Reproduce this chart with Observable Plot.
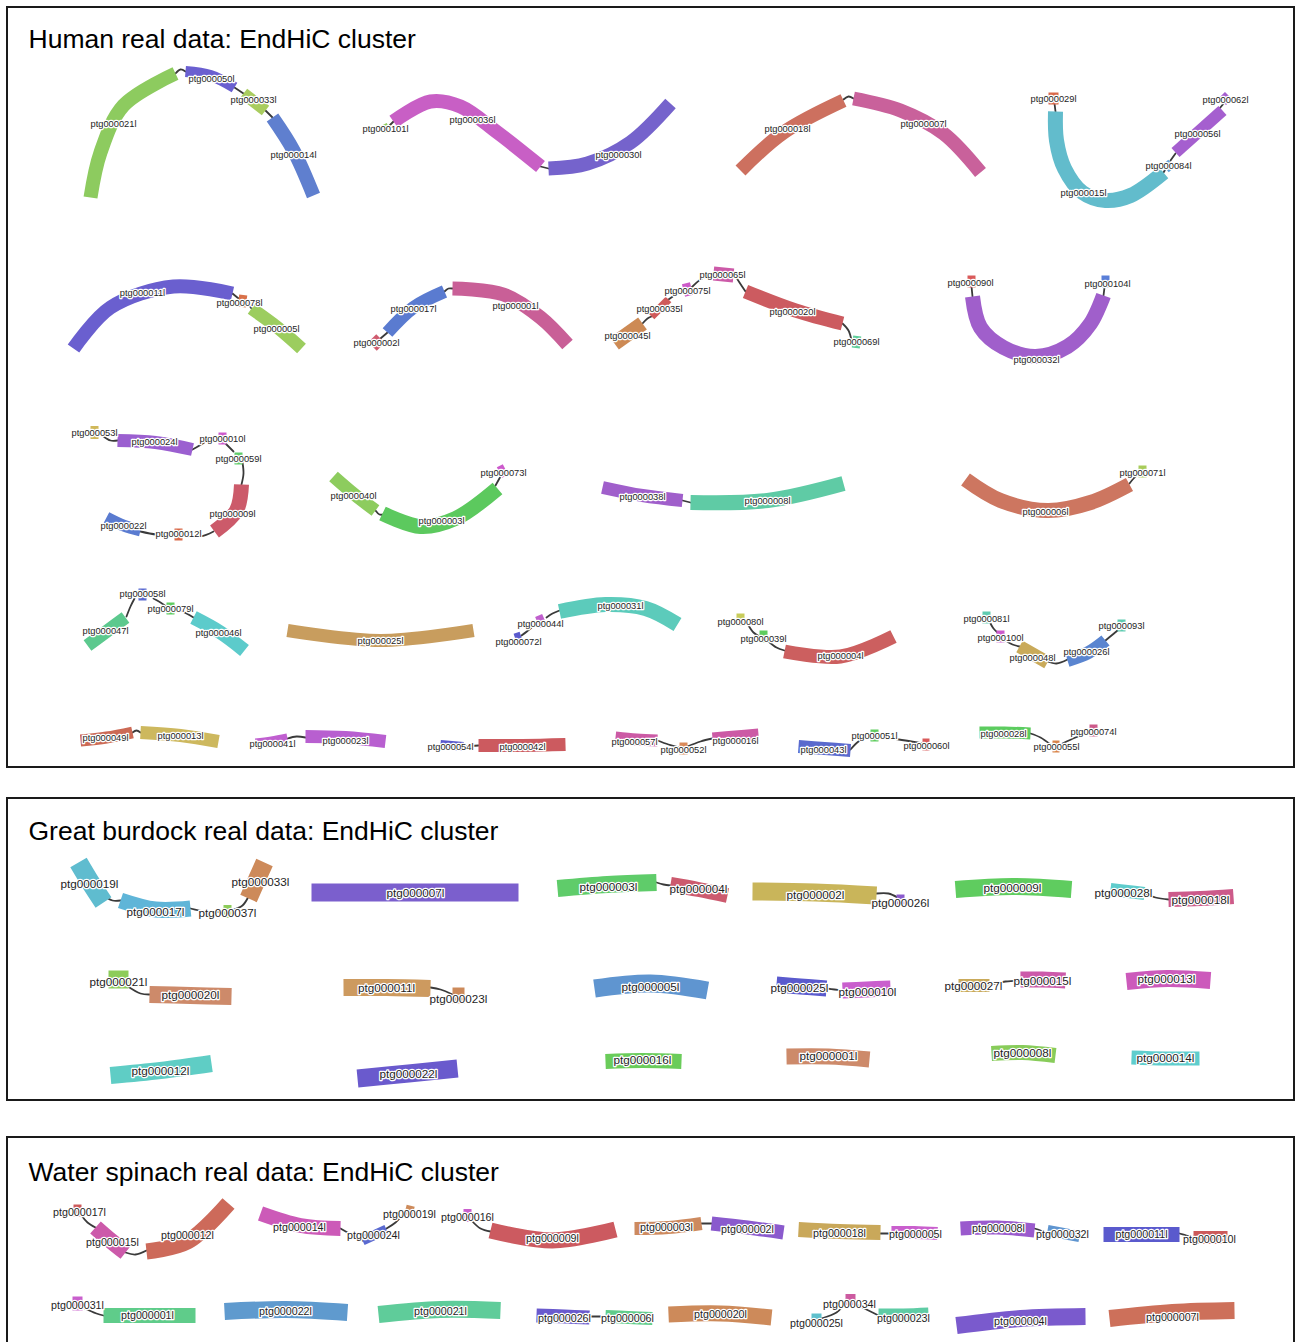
<!DOCTYPE html>
<html><head><meta charset="utf-8">
<script src="https://cdn.jsdelivr.net/npm/d3@7"></script>
<script src="https://cdn.jsdelivr.net/npm/@observablehq/plot@0.6"></script>
<style>html,body{margin:0;padding:0;background:#fff;} #chart svg{display:block}</style>
</head><body><div id="chart"></div>
<script>
const W = 1295, H = 1342;

// Panels: title and frame (layout units = pixels of the picture)
const panelTitles = ["Human real data: EndHiC cluster", "Great burdock real data: EndHiC cluster", "Water spinach real data: EndHiC cluster"];
const panelFrames = [[7, 7, 1294, 767], [7, 798, 1294, 1100], [7, 1137, 1294, 1360]];
const titleAnchors = [[28, 39], [28, 831], [28, 1172]];

// Contigs: [name, colour, depth width, centre-line path, label position]
const humanContigs = [
  ["ptg000021l", "#8dcb5f", 14, [[90,197],[100,152],[123,105],[175,73]], [113,124]],
  ["ptg000050l", "#6a5fd0", 11, [[185,71],[210,75],[234,87]], [211,79]],
  ["ptg000033l", "#a9cc5f", 12, [[243,93],[265,110]], [253,100]],
  ["ptg000014l", "#5f7fcf", 14, [[272,117],[293,150],[313,195]], [293,155]],
  ["ptg000101l", "#8dcb5f", 8, [[382,129],[388,126]], [385,129]],
  ["ptg000036l", "#c85fc5", 14, [[393,121],[430,101],[460,106],[497,132],[540,166]], [472,120]],
  ["ptg000030l", "#7563cc", 14, [[548,168],[587,163],[630,142],[670,103]], [618,155]],
  ["ptg000018l", "#cd705f", 14, [[740,170],[783,132],[843,100]], [787,129]],
  ["ptg000007l", "#c9619b", 14, [[853,98],[900,110],[943,133],[980,172]], [923,124]],
  ["ptg000029l", "#d9694a", 12, [[1048,98],[1058,98]], [1053,99]],
  ["ptg000015l", "#62bccc", 15, [[1055,111],[1056,140],[1064,168],[1082,192],[1105,200],[1130,195],[1163,172]], [1083,193]],
  ["ptg000084l", "#5fa0d8", 10, [[1165,168],[1171,163]], [1168,166]],
  ["ptg000056l", "#a55fcf", 12, [[1175,152],[1222,110]], [1197,134]],
  ["ptg000062l", "#a55fcf", 10, [[1222,101],[1228,95]], [1225,100]],
  ["ptg000011l", "#6a5fcf", 14, [[73,348],[110,307],[173,286],[232,293]], [142,293]],
  ["ptg000078l", "#d9714a", 12, [[238,300],[246,301]], [239,303]],
  ["ptg000005l", "#9ccd5f", 13, [[251,308],[277,327],[301,348]], [276,329]],
  ["ptg000002l", "#cf5a6e", 12, [[372,346],[380,338]], [376,343]],
  ["ptg000017l", "#5a7bd0", 13, [[387,332],[413,307],[444,291]], [413,309]],
  ["ptg000001l", "#c95f97", 14, [[452,288],[503,294],[540,317],[567,344]], [515,306]],
  ["ptg000045l", "#cd8a55", 15, [[614,343],[642,323]], [627,336]],
  ["ptg000035l", "#cf5a5a", 8, [[651,316],[668,299]], [659,309]],
  ["ptg000075l", "#cc5ac8", 13, [[683,290],[691,288]], [687,291]],
  ["ptg000065l", "#cc5aa8", 14, [[713,273],[733,275]], [722,275]],
  ["ptg000020l", "#cc5b60", 14, [[745,291],[795,310],[842,323]], [792,312]],
  ["ptg000069l", "#5fcf9a", 12, [[852,341],[860,342]], [856,342]],
  ["ptg000090l", "#d95a5a", 12, [[967,281],[975,281]], [970,283]],
  ["ptg000032l", "#a05fcb", 15, [[972,296],[980,327],[1003,347],[1035,356],[1067,346],[1090,323],[1103,295]], [1036,360]],
  ["ptg000104l", "#5a7fd8", 12, [[1101,281],[1109,281]], [1107,284]],
  ["ptg000053l", "#d0b85a", 13, [[90,432],[98,432]], [94,433]],
  ["ptg000024l", "#9b5fd0", 13, [[117,440],[155,442],[192,449]], [154,442]],
  ["ptg000010l", "#cc5acc", 12, [[218,438],[226,438]], [222,439]],
  ["ptg000059l", "#5fcc6a", 12, [[234,458],[242,458]], [238,459]],
  ["ptg000009l", "#cc5a6a", 15, [[241,484],[236,510],[214,531]], [232,514]],
  ["ptg000012l", "#d96a4a", 12, [[174,534],[182,534]], [178,534]],
  ["ptg000022l", "#5a7bd0", 12, [[106,517],[123,525],[140,530]], [123,526]],
  ["ptg000040l", "#8dcc5e", 13, [[333,476],[354,494],[375,510]], [353,496]],
  ["ptg000003l", "#5cc95e", 15, [[382,513],[420,526],[455,518],[497,488]], [441,521]],
  ["ptg000073l", "#cc5acc", 12, [[499,472],[505,469]], [503,473]],
  ["ptg000038l", "#a05fcb", 13, [[602,487],[642,495],[682,500]], [642,497]],
  ["ptg000008l", "#5fcba5", 15, [[690,502],[767,500],[843,483]], [767,501]],
  ["ptg000006l", "#cd7660", 15, [[965,479],[1000,500],[1047,510],[1090,502],[1129,484]], [1045,512]],
  ["ptg000071l", "#a8cc5a", 12, [[1138,471],[1146,471]], [1142,473]],
  ["ptg000058l", "#5a6ad0", 12, [[138,594],[146,594]], [142,594]],
  ["ptg000047l", "#5cc98e", 13, [[87,645],[106,631],[125,617]], [105,631]],
  ["ptg000079l", "#5fcc5f", 12, [[166,608],[174,608]], [170,609]],
  ["ptg000046l", "#5ccbcb", 14, [[193,617],[220,632],[244,650]], [218,633]],
  ["ptg000025l", "#c89d5e", 13, [[287,630],[380,640],[473,630]], [380,641]],
  ["ptg000072l", "#5a5acd", 12, [[515,639],[521,637]], [518,642]],
  ["ptg000044l", "#c05fcd", 12, [[537,622],[544,619]], [540,624]],
  ["ptg000031l", "#5ccbbb", 15, [[559,611],[605,604],[645,608],[677,624]], [620,606]],
  ["ptg000080l", "#c8cc5a", 12, [[736,619],[744,619]], [740,622]],
  ["ptg000039l", "#5fcc5f", 12, [[759,636],[767,636]], [763,639]],
  ["ptg000004l", "#cc5f5f", 14, [[784,651],[840,656],[893,636]], [840,656]],
  ["ptg000081l", "#5fcbb0", 12, [[982,617],[990,617]], [986,619]],
  ["ptg000100l", "#cc5acc", 12, [[996,636],[1004,636]], [1000,638]],
  ["ptg000048l", "#c9aa5a", 13, [[1019,646],[1033,654],[1047,662]], [1032,658]],
  ["ptg000026l", "#5a85d0", 13, [[1067,660],[1088,652],[1105,640]], [1086,652]],
  ["ptg000093l", "#5fcbb0", 12, [[1117,625],[1125,625]], [1121,626]],
  ["ptg000049l", "#cc6a55", 12, [[80,740],[106,737],[132,732]], [105,738]],
  ["ptg000013l", "#cdb85e", 13, [[140,732],[180,735],[218,741]], [180,736]],
  ["ptg000041l", "#c05fd0", 10, [[255,743],[271,741],[287,738]], [272,744]],
  ["ptg000023l", "#b85fd0", 13, [[305,736],[345,737],[385,741]], [345,741]],
  ["ptg000054l", "#5a5acd", 9, [[440,744],[463,746]], [450,747]],
  ["ptg000042l", "#cc5a5f", 13, [[478,745],[522,745],[565,744]], [522,747]],
  ["ptg000057l", "#cc5aa5", 12, [[615,737],[636,739],[657,740]], [634,742]],
  ["ptg000052l", "#d98a5a", 12, [[679,748],[687,748]], [683,750]],
  ["ptg000016l", "#cc5aa5", 12, [[712,738],[735,736],[758,734]], [735,741]],
  ["ptg000043l", "#5a6acd", 13, [[798,746],[824,748],[850,750]], [823,750]],
  ["ptg000051l", "#5fcc5f", 12, [[870,735],[878,735]], [874,736]],
  ["ptg000060l", "#d95a5a", 12, [[922,744],[929,744]], [926,746]],
  ["ptg000028l", "#5ccc5f", 12, [[979,732],[1004,732],[1030,733]], [1003,734]],
  ["ptg000055l", "#d9844a", 12, [[1052,746],[1059,746]], [1056,747]],
  ["ptg000074l", "#cc5a8a", 12, [[1089,730],[1097,730]], [1093,732]]
];
const humanLinks = [
  [[175,73],[180,69],[185,71]], [[234,87],[243,93]], [[265,110],[272,117]],
  [[388,126],[393,121]], [[540,166],[548,168]], [[843,99],[848,96],[853,98]],
  [[1054,103],[1055,111]], [[1163,172],[1166,167]], [[1170,160],[1175,153]], [[1219,108],[1224,102]],
  [[232,293],[238,298]], [[246,301],[251,308]], [[380,338],[387,332]], [[444,291],[448,288],[452,288]],
  [[642,323],[647,318],[651,316]], [[668,299],[677,293],[684,289]], [[691,287],[700,279],[712,273]],
  [[733,273],[739,282],[745,291]], [[842,323],[848,330],[851,340]], [[971,286],[972,296]], [[1104,287],[1103,295]],
  [[103,436],[110,440],[117,440]], [[192,449],[199,445],[207,440]], [[225,443],[233,451]],
  [[242,462],[243,473],[241,484]], [[182,535],[200,536],[213,531]], [[140,531],[156,534],[174,534]],
  [[375,510],[379,514],[383,514]], [[495,485],[500,476]], [[682,500],[690,502]], [[1129,483],[1133,478],[1137,474]],
  [[134,598],[130,606],[126,616]], [[153,598],[160,602],[167,607]], [[180,610],[186,613],[193,617]],
  [[521,635],[530,628],[537,621]], [[546,617],[552,613],[559,610]],
  [[748,625],[753,632],[759,636]], [[768,641],[776,647],[784,650]],
  [[990,623],[993,628],[997,632]], [[1005,640],[1012,644],[1019,646]], [[1047,661],[1056,663],[1067,659]], [[1105,640],[1111,635],[1117,630]],
  [[132,732],[136,730],[140,732]], [[287,738],[296,736],[305,737]], [[463,746],[478,745]],
  [[657,740],[668,744],[679,747]], [[687,746],[700,741],[712,738]], [[850,749],[858,741],[866,737]],
  [[885,737],[905,740],[922,743]], [[1030,733],[1040,737],[1050,744]], [[1062,743],[1075,737],[1089,732]]
];

const burdockContigs = [
  ["ptg000019l", "#5fbccf", 19, [[78,862],[90,882],[103,902]], [89,884]],
  ["ptg000017l", "#5fb5d8", 16, [[120,900],[155,909],[190,908]], [155,912]],
  ["ptg000037l", "#8dcc5a", 13, [[223,911],[231,911]], [227,913]],
  ["ptg000033l", "#cd8a5a", 18, [[264,862],[256,880],[248,898]], [260,882]],
  ["ptg000007l", "#7b5fcd", 18, [[311,892],[415,892],[518,892]], [415,893]],
  ["ptg000003l", "#5fcc6a", 17, [[557,888],[607,884],[656,882]], [608,887]],
  ["ptg000004l", "#cc5a6e", 15, [[670,884],[698,889],[727,895]], [698,889]],
  ["ptg000002l", "#c9b55a", 18, [[752,891],[815,892],[876,895]], [815,895]],
  ["ptg000026l", "#8a5acd", 10, [[896,899],[904,899]], [900,903]],
  ["ptg000009l", "#5fcc5f", 17, [[955,889],[1012,886],[1071,889]], [1012,888]],
  ["ptg000028l", "#5fcccc", 13, [[1110,889],[1127,891],[1144,893]], [1123,893]],
  ["ptg000018l", "#cc5a8a", 15, [[1168,899],[1200,898],[1233,896]], [1200,900]],
  ["ptg000021l", "#8dcc5a", 18, [[108,979],[128,979]], [118,982]],
  ["ptg000020l", "#cd8a6a", 17, [[149,994],[190,995],[231,996]], [190,995]],
  ["ptg000011l", "#cd9a5f", 17, [[343,987],[386,987],[430,988]], [386,988]],
  ["ptg000023l", "#cd8a5a", 16, [[452,995],[464,995]], [458,999]],
  ["ptg000005l", "#5f95d0", 18, [[594,988],[650,983],[707,990]], [650,987]],
  ["ptg000025l", "#5a5acd", 16, [[776,984],[800,986],[826,988]], [799,988]],
  ["ptg000010l", "#c95fcd", 16, [[842,990],[866,989],[890,988]], [867,992]],
  ["ptg000027l", "#c9aa5a", 13, [[958,985],[973,985],[989,985]], [973,986]],
  ["ptg000015l", "#cc5aaa", 16, [[1020,979],[1042,979],[1065,980]], [1042,981]],
  ["ptg000013l", "#cc5abb", 17, [[1126,981],[1167,978],[1210,980]], [1166,979]],
  ["ptg000012l", "#5fcdc5", 17, [[110,1075],[160,1070],[211,1063]], [160,1071]],
  ["ptg000022l", "#6a5acd", 18, [[357,1078],[408,1073],[457,1068]], [408,1074]],
  ["ptg000016l", "#6acc5a", 15, [[605,1061],[642,1060],[681,1061]], [642,1060]],
  ["ptg000001l", "#cd8a6a", 16, [[786,1056],[828,1056],[869,1059]], [828,1056]],
  ["ptg000008l", "#88cc5a", 15, [[991,1053],[1022,1052],[1055,1055]], [1022,1053]],
  ["ptg000014l", "#5fcdcd", 14, [[1131,1057],[1165,1058],[1199,1058]], [1165,1058]]
];
const burdockLinks = [
  [[103,895],[112,900],[120,900]], [[190,908],[205,911],[223,911]], [[231,910],[242,905],[248,896]],
  [[656,882],[663,884],[670,885]], [[876,893],[888,893],[897,897]], [[1144,893],[1155,897],[1168,899]],
  [[126,985],[140,993],[149,994]], [[430,987],[440,989],[452,994]], [[826,988],[834,989],[842,990]],
  [[989,984],[1005,981],[1020,980]]
];

const spinachContigs = [
  ["ptg000017l", "#cc5a5a", 12, [[73,1210],[81,1210]], [79,1212]],
  ["ptg000015l", "#cc5aaa", 16, [[95,1227],[110,1240],[125,1252]], [112,1242]],
  ["ptg000012l", "#cd6a5a", 16, [[146,1251],[187,1241],[228,1203]], [187,1235]],
  ["ptg000014l", "#cc5ab8", 15, [[260,1213],[300,1225],[340,1228]], [299,1227]],
  ["ptg000024l", "#5a6ad0", 10, [[362,1240],[386,1229]], [373,1235]],
  ["ptg000019l", "#cd8a5a", 10, [[405,1209],[413,1211]], [409,1214]],
  ["ptg000016l", "#c95fcd", 13, [[463,1215],[471,1215]], [467,1217]],
  ["ptg000009l", "#cc5a60", 16, [[490,1230],[552,1240],[615,1229]], [552,1238]],
  ["ptg000003l", "#cd8a5f", 13, [[634,1228],[668,1227],[701,1223]], [666,1227]],
  ["ptg000002l", "#8a5acd", 14, [[711,1223],[747,1227],[783,1232]], [747,1229]],
  ["ptg000018l", "#c9a85a", 15, [[798,1229],[839,1231],[880,1232]], [839,1233]],
  ["ptg000005l", "#c95fcd", 13, [[891,1232],[914,1232],[937,1233]], [915,1234]],
  ["ptg000008l", "#9a5acd", 14, [[960,1228],[997,1227],[1034,1230]], [998,1228]],
  ["ptg000032l", "#5f95d0", 11, [[1047,1230],[1063,1233],[1079,1236]], [1062,1234]],
  ["ptg000011l", "#5a5acd", 15, [[1103,1234],[1141,1234],[1179,1234]], [1141,1234]],
  ["ptg000010l", "#cc5a5a", 13, [[1193,1237],[1210,1237],[1227,1237]], [1209,1239]],
  ["ptg000031l", "#c95fcd", 14, [[72,1303],[82,1303]], [77,1305]],
  ["ptg000001l", "#5fcc8a", 15, [[103,1315],[149,1315],[195,1315]], [147,1315]],
  ["ptg000022l", "#5f9ace", 17, [[224,1311],[285,1309],[347,1312]], [285,1311]],
  ["ptg000021l", "#5fcc9a", 17, [[378,1314],[440,1309],[500,1310]], [440,1311]],
  ["ptg000026l", "#6a5acd", 14, [[536,1315],[564,1316],[589,1317]], [564,1318]],
  ["ptg000006l", "#5fcc8a", 13, [[605,1316],[628,1317],[652,1318]], [627,1318]],
  ["ptg000020l", "#cd8a5a", 16, [[668,1314],[720,1313],[771,1317]], [720,1314]],
  ["ptg000034l", "#cc5aa0", 11, [[845,1299],[855,1299]], [849,1304]],
  ["ptg000025l", "#5fc0cc", 14, [[811,1320],[821,1320]], [816,1323]],
  ["ptg000023l", "#5fcca5", 14, [[878,1315],[903,1315],[928,1314]], [903,1318]],
  ["ptg000004l", "#7a5acd", 17, [[956,1325],[1020,1318],[1085,1316]], [1020,1321]],
  ["ptg000007l", "#cd705a", 17, [[1109,1318],[1172,1312],[1234,1310]], [1172,1317]]
];
const spinachLinks = [
  [[81,1215],[87,1222],[95,1227]], [[125,1252],[135,1254],[146,1250]], [[340,1228],[347,1232],[362,1240]],
  [[386,1228],[395,1222],[405,1211]], [[471,1220],[480,1228],[490,1231]], [[701,1223],[711,1223]],
  [[880,1233],[891,1233]], [[1034,1228],[1040,1230],[1047,1233]], [[1179,1233],[1186,1235],[1193,1237]],
  [[82,1307],[96,1313],[103,1315]], [[589,1316],[597,1316],[605,1316]], [[842,1306],[836,1312],[821,1318]],
  [[858,1305],[868,1310],[878,1315]]
];

// ---- build tables for Plot ----
const panels = panelTitles.map((t, i) => ({
  title: t, x1: panelFrames[i][0], y1: panelFrames[i][1], x2: panelFrames[i][2], y2: panelFrames[i][3],
  tx: titleAnchors[i][0], ty: titleAnchors[i][1]
}));
function contigPoints(list, key) {
  const out = [];
  list.forEach((c, i) => c[3].forEach(p => out.push({id: key + i, x: p[0], y: p[1], color: c[1], w: c[2]})));
  return out;
}
function linkPoints(list, key) {
  const out = [];
  list.forEach((l, i) => l.forEach(p => out.push({id: key + i, x: p[0], y: p[1]})));
  return out;
}
function labelRows(list) { return list.map(c => ({text: c[0], x: c[4][0], y: c[4][1]})); }

const allContigs = [...contigPoints(humanContigs, "h"), ...contigPoints(burdockContigs, "b"), ...contigPoints(spinachContigs, "s")];
const allLinks = [...linkPoints(humanLinks, "h"), ...linkPoints(burdockLinks, "b"), ...linkPoints(spinachLinks, "s")];

const labelStyle = {x: "x", y: "y", text: "text", fill: "#1e1e1e", stroke: "white", strokeWidth: 2.5, paintOrder: "stroke"};

const chart = Plot.plot({
  width: W, height: H, margin: 0,
  x: {domain: [0, W], range: [0, W], axis: null},
  y: {domain: [0, H], range: [0, H], axis: null},
  color: {type: "identity"},
  style: {background: "white", fontFamily: "'Liberation Sans', Arial, sans-serif", overflow: "hidden"},
  marks: [
    Plot.rect(panels, {x1: "x1", x2: "x2", y1: "y1", y2: "y2", fill: "white", stroke: "#1a1a1a", strokeWidth: 2}),
    Plot.text(panels, {x: "tx", y: "ty", text: "title", textAnchor: "start", fontSize: 26.5, fill: "#000"}),
    Plot.line(allLinks, {x: "x", y: "y", z: "id", stroke: "#3a3a3a", strokeWidth: 1.8, curve: "catmull-rom"}),
    Plot.line(allContigs, {x: "x", y: "y", z: "id", stroke: "color", strokeWidth: "w", curve: "catmull-rom", strokeLinecap: "butt", strokeLinejoin: "round"}),
    Plot.text(labelRows(humanContigs), {...labelStyle, fontSize: 9.3}),
    Plot.text(labelRows(burdockContigs), {...labelStyle, fontSize: 11.7}),
    Plot.text(labelRows(spinachContigs), {...labelStyle, fontSize: 10.7})
  ]
});
document.getElementById("chart").appendChild(chart);
</script>
</body></html>
